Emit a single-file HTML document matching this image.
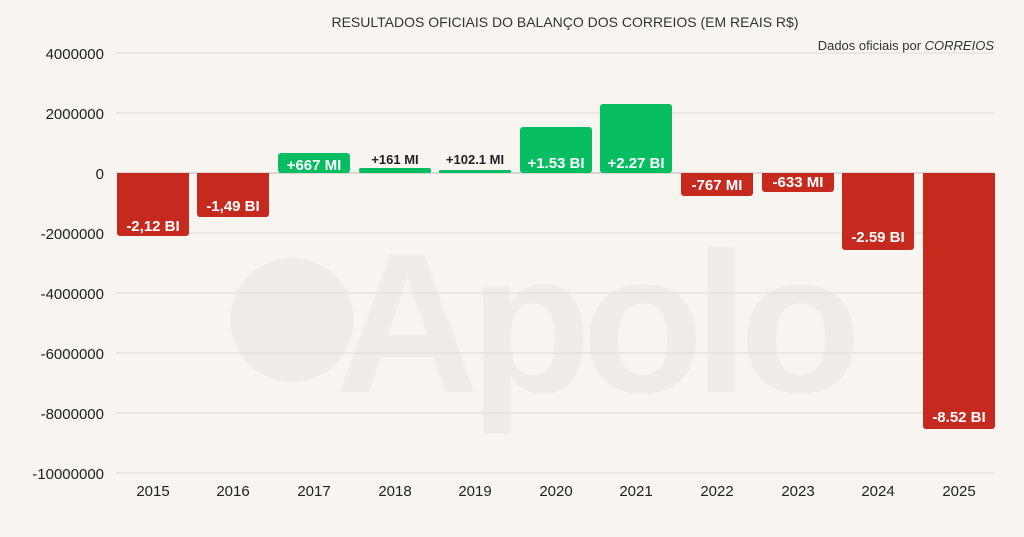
<!DOCTYPE html><html><head><style>body{margin:0;background:#f8f5f0}svg{display:block}</style></head><body>
<svg width="1024" height="537" xmlns="http://www.w3.org/2000/svg" font-family="Liberation Sans, sans-serif">
<rect width="1024" height="537" fill="#f8f5f0"/>
<g fill="#f0ede8"><circle cx="292" cy="320" r="62"/><text x="335" y="392" font-size="200" font-weight="bold" letter-spacing="-10">Apolo</text></g>
<text x="565" y="27" text-anchor="middle" font-size="14" fill="#333">RESULTADOS OFICIAIS DO BALANÇO DOS CORREIOS (EM REAIS R$)</text>
<text x="994" y="50" text-anchor="end" font-size="13" fill="#333">Dados oficiais por <tspan font-style="italic">CORREIOS</tspan></text>
<g stroke="#dedbd6" stroke-width="1">
<line x1="116" x2="994" y1="53" y2="53"/><line x1="116" x2="994" y1="113" y2="113"/><line x1="116" x2="994" y1="233" y2="233"/><line x1="116" x2="994" y1="293" y2="293"/><line x1="116" x2="994" y1="353" y2="353"/><line x1="116" x2="994" y1="413" y2="413"/><line x1="116" x2="994" y1="473" y2="473"/></g>
<g font-size="15" fill="#222" text-anchor="end">
<text x="104" y="59">4000000</text><text x="104" y="119">2000000</text><text x="104" y="179">0</text><text x="104" y="239">-2000000</text><text x="104" y="299">-4000000</text><text x="104" y="359">-6000000</text><text x="104" y="419">-8000000</text><text x="104" y="479">-10000000</text></g>
<line x1="116" x2="994" y1="173" y2="173" stroke="#bbb"/>
<g fill="#c62a1e">
<rect x="117" y="173" width="72" height="63" rx="3"/><rect x="197" y="173" width="72" height="44" rx="3"/>
<rect x="681" y="173" width="72" height="23" rx="3"/><rect x="762" y="173" width="72" height="19" rx="3"/>
<rect x="842" y="173" width="72" height="77" rx="3"/><rect x="923" y="173" width="72" height="256" rx="3"/>
<rect x="117" y="173" width="72" height="5"/><rect x="197" y="173" width="72" height="5"/><rect x="681" y="173" width="72" height="5"/><rect x="762" y="173" width="72" height="5"/><rect x="842" y="173" width="72" height="5"/><rect x="923" y="173" width="72" height="5"/></g>
<g fill="#06bd62">
<rect x="278" y="153" width="72" height="20" rx="3"/><rect x="359" y="168" width="72" height="5" rx="2"/><rect x="439" y="170" width="72" height="3" rx="1"/>
<rect x="520" y="127" width="72" height="46" rx="3"/><rect x="600" y="104" width="72" height="69" rx="3"/></g>
<g font-size="15" fill="#fff" text-anchor="middle" font-weight="bold">
<text x="153" y="231">-2,12 BI</text><text x="233" y="211">-1,49 BI</text><text x="314" y="170">+667 MI</text>
<text x="556" y="168">+1.53 BI</text><text x="636" y="168">+2.27 BI</text>
<text x="717" y="190">-767 MI</text><text x="798" y="187">-633 MI</text><text x="878" y="242">-2.59 BI</text><text x="959" y="422">-8.52 BI</text></g>
<g font-size="13" fill="#222" text-anchor="middle" font-weight="bold"><text x="395" y="164">+161 MI</text><text x="475" y="164">+102.1 MI</text></g>
<g font-size="15" fill="#222" text-anchor="middle">
<text x="153" y="496">2015</text><text x="233" y="496">2016</text><text x="314" y="496">2017</text><text x="395" y="496">2018</text><text x="475" y="496">2019</text><text x="556" y="496">2020</text><text x="636" y="496">2021</text><text x="717" y="496">2022</text><text x="798" y="496">2023</text><text x="878" y="496">2024</text><text x="959" y="496">2025</text></g>
</svg></body></html>
